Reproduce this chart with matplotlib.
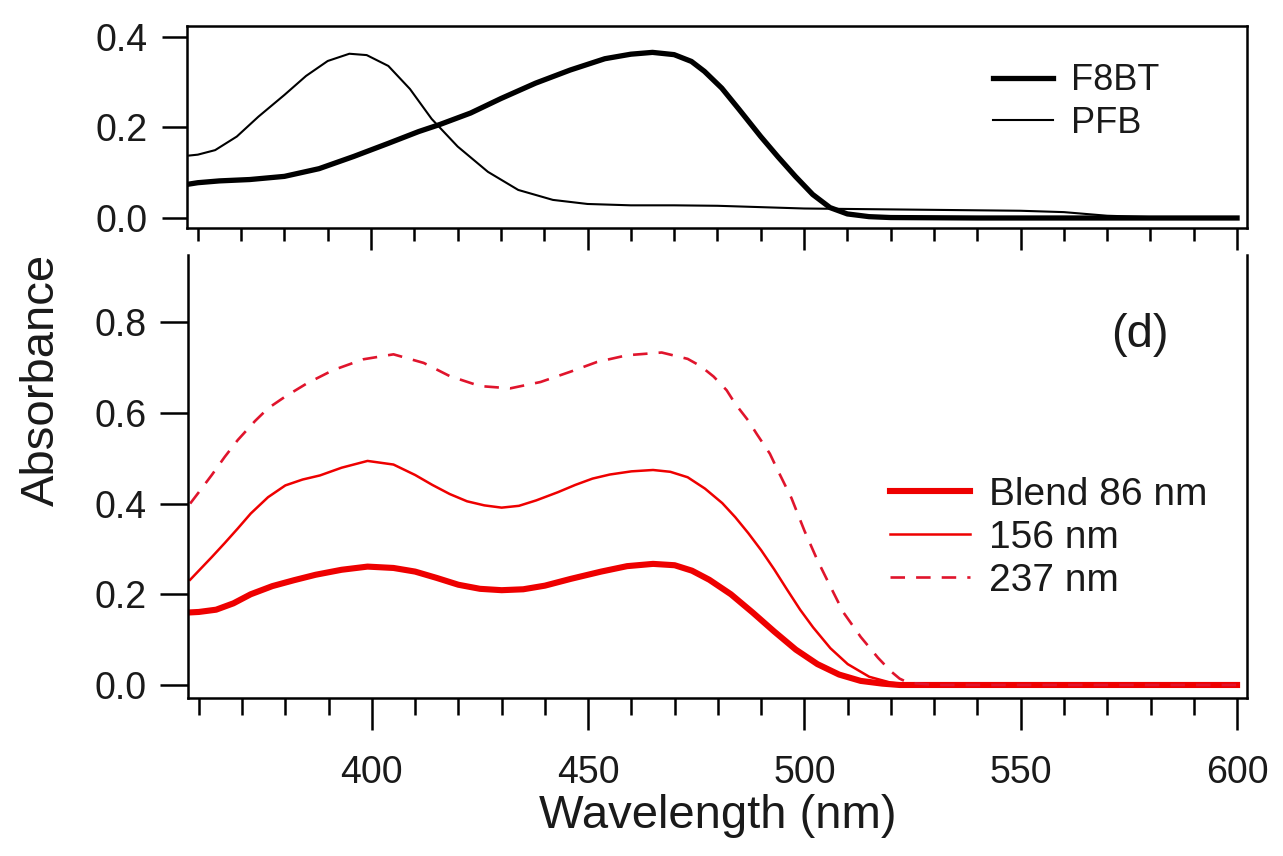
import numpy as np
import matplotlib.pyplot as plt
from matplotlib.ticker import MultipleLocator

plt.rcParams['font.family'] = ['Liberation Sans', 'DejaVu Sans']
plt.rcParams['lines.solid_joinstyle'] = 'round'

# top panel: neat films
f8bt_wl = [358, 360, 365, 372, 380, 388, 396, 404, 411, 416, 423, 430, 438, 446, 454,
           460, 465, 470, 474, 477, 481, 485, 490, 494, 498, 502, 506, 510, 515, 520,
           540, 560, 580, 600]
f8bt_abs = [0.075, 0.078, 0.082, 0.085, 0.092, 0.109, 0.136, 0.165, 0.191, 0.207, 0.232,
            0.264, 0.298, 0.327, 0.352, 0.362, 0.366, 0.361, 0.346, 0.324, 0.287, 0.240,
            0.180, 0.135, 0.092, 0.052, 0.023, 0.009, 0.003, 0.001, 0.0, 0.0, 0.0, 0.0]

pfb_wl = [358, 360, 364, 369, 374, 380, 385, 390, 395, 399, 404, 409, 414, 420, 427, 434,
          442, 450, 460, 470, 480, 490, 500, 510, 520, 530, 540, 550, 560, 565, 570, 580,
          590, 600]
pfb_abs = [0.138, 0.140, 0.150, 0.180, 0.224, 0.272, 0.314, 0.347, 0.363, 0.360, 0.336,
           0.285, 0.219, 0.158, 0.102, 0.062, 0.040, 0.031, 0.028, 0.028, 0.027, 0.024,
           0.021, 0.020, 0.019, 0.018, 0.017, 0.016, 0.013, 0.009, 0.005, 0.002, 0.001, 0.0]

# bottom panel: blends of different thickness
b86_wl = [358, 360, 364, 368, 372, 377, 382, 387, 393, 399, 405, 410, 415, 420, 425, 430,
          435, 440, 446, 453, 459, 465, 470, 474, 478, 483, 488, 493, 498, 503, 508, 513,
          518, 522, 530, 600]
b86_abs = [0.160, 0.161, 0.166, 0.180, 0.200, 0.218, 0.231, 0.243, 0.254, 0.261, 0.258,
           0.250, 0.236, 0.221, 0.212, 0.209, 0.211, 0.219, 0.234, 0.250, 0.262, 0.267,
           0.264, 0.252, 0.232, 0.200, 0.160, 0.118, 0.078, 0.046, 0.023, 0.009, 0.003,
           0.0, 0.0, 0.0]

b156_wl = [358, 360, 363, 366, 369, 372, 376, 380, 384, 388, 393, 399, 405, 410, 414, 418,
           422, 426, 430, 434, 438, 443, 447, 451, 455, 460, 465, 469, 473, 477, 481, 484,
           487, 490, 493, 496, 499, 502, 506, 510, 515, 520, 525, 600]
b156_abs = [0.232, 0.252, 0.282, 0.313, 0.345, 0.378, 0.414, 0.440, 0.453, 0.462, 0.479,
            0.494, 0.486, 0.463, 0.441, 0.421, 0.405, 0.396, 0.391, 0.395, 0.407, 0.425,
            0.441, 0.455, 0.464, 0.471, 0.474, 0.470, 0.458, 0.433, 0.401, 0.370, 0.335,
            0.297, 0.255, 0.210, 0.166, 0.127, 0.081, 0.046, 0.018, 0.005, 0.0, 0.0]

b237_wl = [358, 360, 363, 366, 369, 373, 376, 380, 385, 391, 398, 405, 412, 418, 425, 432,
           439, 446, 452, 459, 467, 473, 476, 479, 482, 484, 487, 489, 492, 494, 497, 500,
           503, 506, 509, 513, 517, 520, 522, 524, 530, 600]
b237_abs = [0.400, 0.425, 0.463, 0.503, 0.540, 0.582, 0.610, 0.636, 0.665, 0.694, 0.718,
            0.729, 0.710, 0.681, 0.659, 0.654, 0.668, 0.691, 0.712, 0.727, 0.733, 0.719,
            0.703, 0.680, 0.650, 0.620, 0.583, 0.553, 0.510, 0.470, 0.412, 0.340, 0.275,
            0.217, 0.160, 0.106, 0.060, 0.030, 0.014, 0.005, 0.0, 0.0]

W, H = 1283, 856
txt = '#1a1a1a'
red = '#ee0000'

fig = plt.figure(figsize=(W / 100, H / 100), dpi=100)
ax1 = fig.add_axes([187 / W, 1 - 228 / H, 1060 / W, 202 / H])
ax2 = fig.add_axes([188 / W, 1 - 698 / H, 1059 / W, 443 / H])

ax1.plot(f8bt_wl, f8bt_abs, color='black', lw=3.8, label='F8BT')
ax1.plot(pfb_wl, pfb_abs, color='black', lw=1.5, label='PFB')

ax2.plot(b86_wl, b86_abs, color=red, lw=4.4, label='Blend 86 nm')
ax2.plot(b156_wl, b156_abs, color=red, lw=1.8, label='156 nm')
ax2.plot(b237_wl, b237_abs, color='#e0142c', lw=1.9, ls=(0, (5.5, 4.2)), label='237 nm')

for ax in (ax1, ax2):
    ax.set_xlim(357.5, 602.3)
    ax.xaxis.set_major_locator(MultipleLocator(50))
    ax.xaxis.set_minor_locator(MultipleLocator(10))
    ax.tick_params(which='both', direction='out', width=1.8, color='black',
                   labelcolor=txt, labelsize=27, top=False, right=False)
    for s in ax.spines.values():
        s.set_linewidth(1.8)

ax1.set_ylim(-0.0221, 0.4243)
ax1.set_yticks([0.0, 0.2, 0.4])
ax1.yaxis.set_major_formatter(plt.FormatStrFormatter('%.1f'))
ax1.tick_params(axis='x', which='major', length=16, labelbottom=False)
ax1.tick_params(axis='x', which='minor', length=9)
ax1.tick_params(axis='y', length=18, pad=10)

ax2.set_ylim(-0.0287, 0.948)
ax2.set_yticks([0.0, 0.2, 0.4, 0.6, 0.8])
ax2.yaxis.set_major_formatter(plt.FormatStrFormatter('%.1f'))
ax2.spines['top'].set_visible(False)
ax2.tick_params(axis='x', which='major', length=23, pad=18)
ax2.tick_params(axis='x', which='minor', length=12)
ax2.tick_params(axis='y', length=20, pad=10)

ax2.set_xlabel('Wavelength (nm)', fontsize=34, color=txt, labelpad=2)
ax2.set_ylabel('Absorbance', fontsize=34, color=txt)
ax2.yaxis.set_label_coords(-0.117, 0.718)

ax1.legend(loc='center left', bbox_to_anchor=(993 / W, 1 - 102 / H), bbox_transform=fig.transFigure,
           frameon=False, fontsize=26, handlelength=1.65, handletextpad=0.5,
           labelspacing=0.2, borderpad=0, borderaxespad=0, labelcolor=txt)
ax2.legend(loc='center left', bbox_to_anchor=(890 / W, 1 - 538 / H), bbox_transform=fig.transFigure,
           frameon=False, fontsize=28, handlelength=2.05, handletextpad=0.5,
           labelspacing=0.18, borderpad=0, borderaxespad=0, labelcolor=txt)

fig.text(1140 / W, 1 - 335 / H, '(d)', fontsize=34, color=txt, ha='center', va='center')

fig.savefig('out.png', dpi=100)
